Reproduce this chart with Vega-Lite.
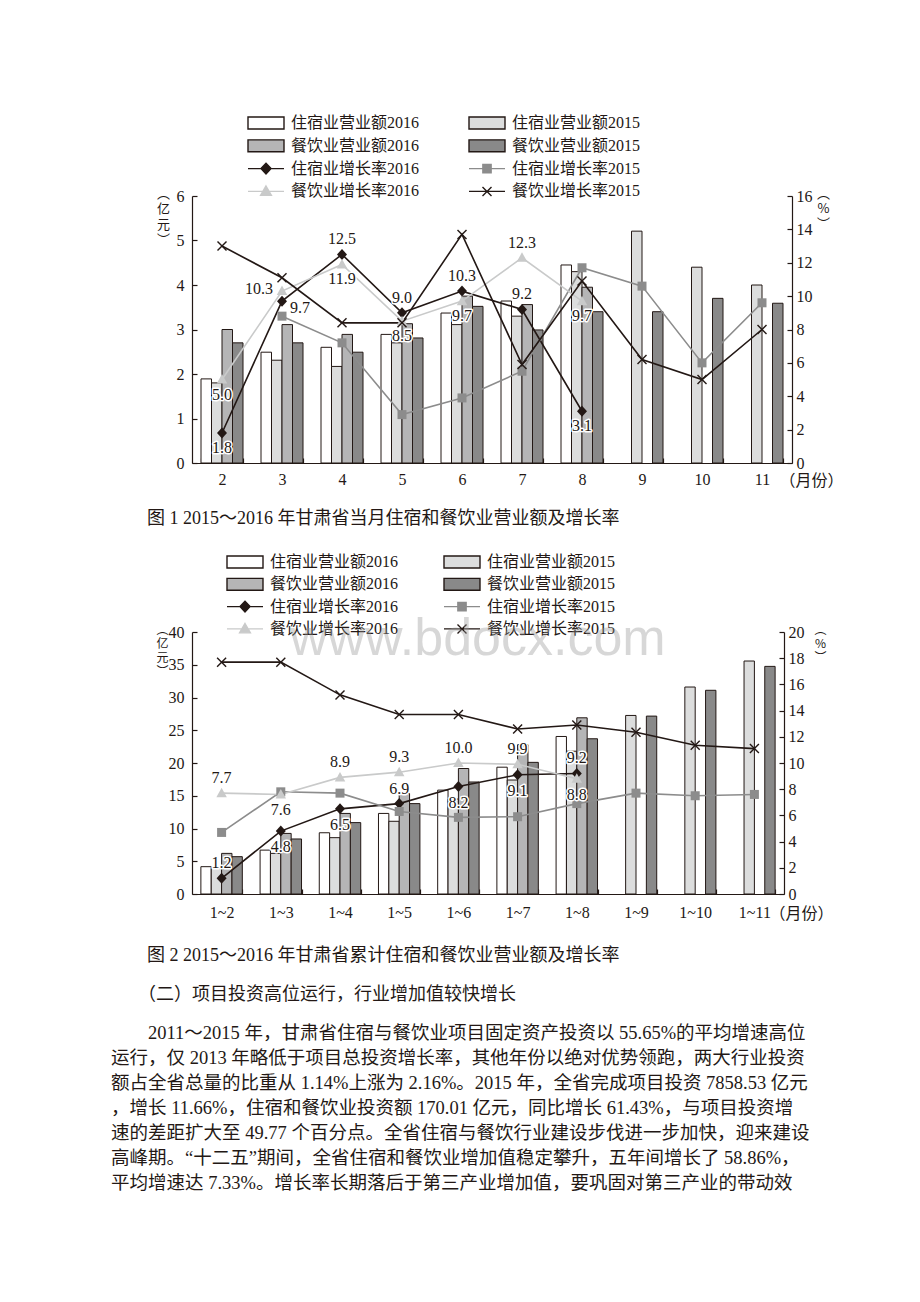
{
  "$schema": "https://vega.github.io/schema/vega-lite/v6.json",
  "padding": {"left": 111, "top": 115, "right": 10, "bottom": 10},
  "bounds": "flush",
  "spacing": 169,
  "background": "white",
  "title": {"text": "www.bdocx.com", "orient": "top", "anchor": "start", "frame": "group", "font": "Liberation Sans", "fontSize": 52, "fontWeight": "normal", "color": "rgba(150,150,150,0.38)", "dx": 98, "dy": 592, "offset": 0, "baseline": "alphabetic"},
  "config": {
    "font": "Liberation Serif, Noto Sans CJK SC",
    "view": {"stroke": null},
    "axis": {"domainColor": "#231815", "tickColor": "#231815", "labelColor": "#231815", "titleColor": "#231815", "grid": false, "labelFont": "Liberation Serif", "labelFontSize": 16, "domainWidth": 1.2, "tickWidth": 1.2, "titleFontWeight": "normal", "titleFont": "Noto Sans CJK SC"},
    "legend": {"labelFont": "Liberation Serif, Noto Sans CJK SC", "labelFontSize": 16, "labelColor": "#231815", "padding": 0},
    "title": {"font": "Liberation Serif, Noto Sans CJK SC", "fontSize": 18, "fontWeight": "normal", "color": "#231815", "subtitleFont": "Liberation Serif, Noto Sans CJK SC", "subtitleFontSize": 18.5, "subtitleColor": "#231815"}
  },
  "datasets": {
    "c1bars": [
      {"m": "2", "s": "住宿业营业额2016", "v": 1.89}, {"m": "2", "s": "住宿业营业额2015", "v": 1.8}, {"m": "2", "s": "餐饮业营业额2016", "v": 3.0}, {"m": "2", "s": "餐饮业营业额2015", "v": 2.7},
      {"m": "3", "s": "住宿业营业额2016", "v": 2.49}, {"m": "3", "s": "住宿业营业额2015", "v": 2.31}, {"m": "3", "s": "餐饮业营业额2016", "v": 3.11}, {"m": "3", "s": "餐饮业营业额2015", "v": 2.7},
      {"m": "4", "s": "住宿业营业额2016", "v": 2.6}, {"m": "4", "s": "住宿业营业额2015", "v": 2.17}, {"m": "4", "s": "餐饮业营业额2016", "v": 2.89}, {"m": "4", "s": "餐饮业营业额2015", "v": 2.49},
      {"m": "5", "s": "住宿业营业额2016", "v": 2.89}, {"m": "5", "s": "住宿业营业额2015", "v": 2.7}, {"m": "5", "s": "餐饮业营业额2016", "v": 3.13}, {"m": "5", "s": "餐饮业营业额2015", "v": 2.81},
      {"m": "6", "s": "住宿业营业额2016", "v": 3.37}, {"m": "6", "s": "住宿业营业额2015", "v": 3.11}, {"m": "6", "s": "餐饮业营业额2016", "v": 3.75}, {"m": "6", "s": "餐饮业营业额2015", "v": 3.52},
      {"m": "7", "s": "住宿业营业额2016", "v": 3.64}, {"m": "7", "s": "住宿业营业额2015", "v": 3.3}, {"m": "7", "s": "餐饮业营业额2016", "v": 3.56}, {"m": "7", "s": "餐饮业营业额2015", "v": 2.99},
      {"m": "8", "s": "住宿业营业额2016", "v": 4.45}, {"m": "8", "s": "住宿业营业额2015", "v": 4.3}, {"m": "8", "s": "餐饮业营业额2016", "v": 3.95}, {"m": "8", "s": "餐饮业营业额2015", "v": 3.4},
      {"m": "9", "s": "住宿业营业额2015", "v": 5.21}, {"m": "9", "s": "餐饮业营业额2015", "v": 3.4},
      {"m": "10", "s": "住宿业营业额2015", "v": 4.4}, {"m": "10", "s": "餐饮业营业额2015", "v": 3.7},
      {"m": "11", "s": "住宿业营业额2015", "v": 4.0}, {"m": "11", "s": "餐饮业营业额2015", "v": 3.59}
    ],
    "c1rates": [
      {"m": "2", "s": "住宿业增长率2016", "v": 1.8}, {"m": "3", "s": "住宿业增长率2016", "v": 9.7}, {"m": "4", "s": "住宿业增长率2016", "v": 12.5}, {"m": "5", "s": "住宿业增长率2016", "v": 9.0}, {"m": "6", "s": "住宿业增长率2016", "v": 10.3}, {"m": "7", "s": "住宿业增长率2016", "v": 9.2}, {"m": "8", "s": "住宿业增长率2016", "v": 3.1},
      {"m": "3", "s": "住宿业增长率2015", "v": 8.8}, {"m": "4", "s": "住宿业增长率2015", "v": 7.2}, {"m": "5", "s": "住宿业增长率2015", "v": 2.9}, {"m": "6", "s": "住宿业增长率2015", "v": 3.9}, {"m": "7", "s": "住宿业增长率2015", "v": 5.5}, {"m": "8", "s": "住宿业增长率2015", "v": 11.7}, {"m": "9", "s": "住宿业增长率2015", "v": 10.6}, {"m": "10", "s": "住宿业增长率2015", "v": 6.0}, {"m": "11", "s": "住宿业增长率2015", "v": 9.6},
      {"m": "2", "s": "餐饮业增长率2016", "v": 5.0}, {"m": "3", "s": "餐饮业增长率2016", "v": 10.3}, {"m": "4", "s": "餐饮业增长率2016", "v": 11.9}, {"m": "5", "s": "餐饮业增长率2016", "v": 8.5}, {"m": "6", "s": "餐饮业增长率2016", "v": 9.7}, {"m": "7", "s": "餐饮业增长率2016", "v": 12.3}, {"m": "8", "s": "餐饮业增长率2016", "v": 9.7},
      {"m": "2", "s": "餐饮业增长率2015", "v": 13.0}, {"m": "3", "s": "餐饮业增长率2015", "v": 11.1}, {"m": "4", "s": "餐饮业增长率2015", "v": 8.4}, {"m": "5", "s": "餐饮业增长率2015", "v": 8.4}, {"m": "6", "s": "餐饮业增长率2015", "v": 13.7}, {"m": "7", "s": "餐饮业增长率2015", "v": 5.9}, {"m": "8", "s": "餐饮业增长率2015", "v": 10.9}, {"m": "9", "s": "餐饮业增长率2015", "v": 6.2}, {"m": "10", "s": "餐饮业增长率2015", "v": 5.0}, {"m": "11", "s": "餐饮业增长率2015", "v": 8.0}
    ],
    "c2bars": [
      {"m": "1~2", "s": "住宿业营业额2016", "v": 4.17}, {"m": "1~2", "s": "住宿业营业额2015", "v": 3.9}, {"m": "1~2", "s": "餐饮业营业额2016", "v": 6.2}, {"m": "1~2", "s": "餐饮业营业额2015", "v": 5.7},
      {"m": "1~3", "s": "住宿业营业额2016", "v": 6.7}, {"m": "1~3", "s": "住宿业营业额2015", "v": 6.2}, {"m": "1~3", "s": "餐饮业营业额2016", "v": 9.25}, {"m": "1~3", "s": "餐饮业营业额2015", "v": 8.4},
      {"m": "1~4", "s": "住宿业营业额2016", "v": 9.35}, {"m": "1~4", "s": "住宿业营业额2015", "v": 8.6}, {"m": "1~4", "s": "餐饮业营业额2016", "v": 12.3}, {"m": "1~4", "s": "餐饮业营业额2015", "v": 10.9},
      {"m": "1~5", "s": "住宿业营业额2016", "v": 12.3}, {"m": "1~5", "s": "住宿业营业额2015", "v": 11.1}, {"m": "1~5", "s": "餐饮业营业额2016", "v": 15.35}, {"m": "1~5", "s": "餐饮业营业额2015", "v": 13.8},
      {"m": "1~6", "s": "住宿业营业额2016", "v": 15.86}, {"m": "1~6", "s": "住宿业营业额2015", "v": 14.5}, {"m": "1~6", "s": "餐饮业营业额2016", "v": 19.16}, {"m": "1~6", "s": "餐饮业营业额2015", "v": 17.1},
      {"m": "1~7", "s": "住宿业营业额2016", "v": 19.36}, {"m": "1~7", "s": "住宿业营业额2015", "v": 17.4}, {"m": "1~7", "s": "餐饮业营业额2016", "v": 22.8}, {"m": "1~7", "s": "餐饮业营业额2015", "v": 20.1},
      {"m": "1~8", "s": "住宿业营业额2016", "v": 24.05}, {"m": "1~8", "s": "住宿业营业额2015", "v": 21.8}, {"m": "1~8", "s": "餐饮业营业额2016", "v": 26.9}, {"m": "1~8", "s": "餐饮业营业额2015", "v": 23.7},
      {"m": "1~9", "s": "住宿业营业额2015", "v": 27.26}, {"m": "1~9", "s": "餐饮业营业额2015", "v": 27.16},
      {"m": "1~10", "s": "住宿业营业额2015", "v": 31.6}, {"m": "1~10", "s": "餐饮业营业额2015", "v": 31.1},
      {"m": "1~11", "s": "住宿业营业额2015", "v": 35.57}, {"m": "1~11", "s": "餐饮业营业额2015", "v": 34.75}
    ],
    "c2rates": [
      {"m": "1~2", "s": "住宿业增长率2016", "v": 1.2}, {"m": "1~3", "s": "住宿业增长率2016", "v": 4.8}, {"m": "1~4", "s": "住宿业增长率2016", "v": 6.5}, {"m": "1~5", "s": "住宿业增长率2016", "v": 6.9}, {"m": "1~6", "s": "住宿业增长率2016", "v": 8.2}, {"m": "1~7", "s": "住宿业增长率2016", "v": 9.1}, {"m": "1~8", "s": "住宿业增长率2016", "v": 9.2},
      {"m": "1~2", "s": "住宿业增长率2015", "v": 4.7}, {"m": "1~3", "s": "住宿业增长率2015", "v": 7.8}, {"m": "1~4", "s": "住宿业增长率2015", "v": 7.7}, {"m": "1~5", "s": "住宿业增长率2015", "v": 6.3}, {"m": "1~6", "s": "住宿业增长率2015", "v": 5.85}, {"m": "1~7", "s": "住宿业增长率2015", "v": 5.9}, {"m": "1~8", "s": "住宿业增长率2015", "v": 6.9}, {"m": "1~9", "s": "住宿业增长率2015", "v": 7.7}, {"m": "1~10", "s": "住宿业增长率2015", "v": 7.5}, {"m": "1~11", "s": "住宿业增长率2015", "v": 7.6},
      {"m": "1~2", "s": "餐饮业增长率2016", "v": 7.7}, {"m": "1~3", "s": "餐饮业增长率2016", "v": 7.6}, {"m": "1~4", "s": "餐饮业增长率2016", "v": 8.9}, {"m": "1~5", "s": "餐饮业增长率2016", "v": 9.3}, {"m": "1~6", "s": "餐饮业增长率2016", "v": 10.0}, {"m": "1~7", "s": "餐饮业增长率2016", "v": 9.9}, {"m": "1~8", "s": "餐饮业增长率2016", "v": 8.8},
      {"m": "1~2", "s": "餐饮业增长率2015", "v": 17.7}, {"m": "1~3", "s": "餐饮业增长率2015", "v": 17.7}, {"m": "1~4", "s": "餐饮业增长率2015", "v": 15.2}, {"m": "1~5", "s": "餐饮业增长率2015", "v": 13.7}, {"m": "1~6", "s": "餐饮业增长率2015", "v": 13.7}, {"m": "1~7", "s": "餐饮业增长率2015", "v": 12.6}, {"m": "1~8", "s": "餐饮业增长率2015", "v": 12.9}, {"m": "1~9", "s": "餐饮业增长率2015", "v": 12.35}, {"m": "1~10", "s": "餐饮业增长率2015", "v": 11.35}, {"m": "1~11", "s": "餐饮业增长率2015", "v": 11.1}
    ]
  },
  "resolve": {
    "scale": {"color": "independent", "shape": "independent", "fill": "independent", "stroke": "independent", "xOffset": "independent", "x": "independent", "y": "independent"},
    "legend": {"color": "independent", "shape": "independent", "fill": "independent", "stroke": "independent"}
  },
  "vconcat": [
    {
      "width": 600,
      "height": 267,
      "title": {"text": "\u200b\u3000\u3000图 1 2015～2016 年甘肃省当月住宿和餐饮业营业额及增长率", "orient": "bottom", "anchor": "start", "frame": "group", "dx": -81, "offset": 22},
      "layer": [
        {
          "data": {"name": "c1bars"},
          "mark": {"type": "bar", "stroke": "#231815", "strokeWidth": 1},
          "encoding": {
            "x": {"field": "m", "type": "ordinal", "sort": ["2","3","4","5","6","7","8","9","10","11"],
                  "scale": {"paddingInner": 0.3, "paddingOuter": 0.15},
                  "axis": {"title": "（月份）", "titleX": 587, "titleY": 17, "titleAlign": "left", "titleBaseline": "middle", "titleFontSize": 16, "titleFont": "Liberation Serif, Noto Sans CJK SC", "labelAngle": 0, "tickBand": "extent", "tickSize": -5, "labelPadding": 13}},
            "xOffset": {"field": "s", "type": "nominal", "scale": {"domain": ["住宿业营业额2016","住宿业营业额2015","餐饮业营业额2016","餐饮业营业额2015"], "paddingInner": 0, "paddingOuter": 0}},
            "y": {"field": "v", "type": "quantitative", "scale": {"domain": [0, 6], "nice": false},
                  "axis": {"title": ["︵","亿","元","︶"], "titleAngle": 0, "titleX": -29, "titleY": -9, "titleAlign": "center", "titleBaseline": "top", "titleFontSize": 13, "titleLineHeight": 15.5, "values": [0,1,2,3,4,5,6], "tickSize": -5, "labelPadding": 13}},
            "color": {"field": "s", "type": "nominal",
                      "scale": {"domain": ["住宿业营业额2016","住宿业营业额2015","餐饮业营业额2016","餐饮业营业额2015","住宿业增长率2016","住宿业增长率2015","餐饮业增长率2016","餐饮业增长率2015"],
                                "range": ["#ffffff","#dcdddd","#b5b5b6","#898989","#231815","#8c8c8c","#c9caca","#231815"]},
                      "legend": {"orient": "none", "legendX": 55, "legendY": -81, "columns": 2, "direction": "horizontal", "title": null, "symbolSize": 1296, "clipHeight": 16, "rowPadding": 6.8, "columnPadding": 48, "labelOffset": 6, "symbolOffset": 0,
                                 "encoding": {"symbols": {
                                   "shape": {"value": {"signal": "indexof(['住宿业营业额2016','住宿业营业额2015','餐饮业营业额2016','餐饮业营业额2015'], datum.value) >= 0 ? 'M-1,-0.33H1V0.33H-1Z' : datum.value == '住宿业增长率2016' ? 'M-1,0H1M0,-0.3L0.28,0L0,0.3L-0.28,0Z' : datum.value == '住宿业增长率2015' ? 'M-1,0H1M-0.23,-0.23H0.23V0.23H-0.23Z' : datum.value == '餐饮业增长率2016' ? 'M-1,0H1M0,-0.3L0.3,0.22H-0.3Z' : 'M-1,0H1M-0.25,-0.25L0.25,0.25M-0.25,0.25L0.25,-0.25'"}},
                                   "fill": {"value": {"signal": "['#ffffff','#dcdddd','#b5b5b6','#898989','#231815','#8c8c8c','#c9caca','#231815'][indexof(['住宿业营业额2016','住宿业营业额2015','餐饮业营业额2016','餐饮业营业额2015','住宿业增长率2016','住宿业增长率2015','餐饮业增长率2016','餐饮业增长率2015'], datum.value)]"}},
                                   "stroke": {"value": {"signal": "['#231815','#231815','#231815','#231815','#231815','#8c8c8c','#c9caca','#231815'][indexof(['住宿业营业额2016','住宿业营业额2015','餐饮业营业额2016','餐饮业营业额2015','住宿业增长率2016','住宿业增长率2015','餐饮业增长率2016','餐饮业增长率2015'], datum.value)]"}},
                                   "strokeWidth": {"value": 1.4},
                                   "opacity": {"value": 1}
                                 }}}}
          }
        },
        {
          "data": {"name": "c1rates"},
          "encoding": {
            "x": {"field": "m", "type": "ordinal", "sort": ["2","3","4","5","6","7","8","9","10","11"]},
            "y": {"field": "v", "type": "quantitative", "scale": {"domain": [0, 16], "nice": false},
                  "axis": {"orient": "right", "title": ["︵","%","︶"], "titleAngle": 0, "titleX": 31, "titleY": -9, "titleAlign": "center", "titleBaseline": "top", "titleFontSize": 13, "titleLineHeight": 15, "values": [0,2,4,6,8,10,12,14,16], "tickSize": -5, "labelPadding": 9}}
          },
          "layer": [
            {"mark": {"type": "line", "strokeWidth": 1.6},
             "encoding": {"stroke": {"field": "s", "type": "nominal", "legend": null,
                                     "scale": {"domain": ["住宿业增长率2016","住宿业增长率2015","餐饮业增长率2016","餐饮业增长率2015"], "range": ["#231815","#8c8c8c","#c9caca","#231815"]}}}},
            {"mark": {"type": "point", "filled": true, "size": 100, "opacity": 1},
             "encoding": {"fill": {"field": "s", "type": "nominal", "legend": null,
                                   "scale": {"domain": ["住宿业增长率2016","住宿业增长率2015","餐饮业增长率2016","餐饮业增长率2015"], "range": ["#231815","#8c8c8c","#c9caca","#231815"]}},
                          "shape": {"field": "s", "type": "nominal", "legend": null,
                                    "scale": {"domain": ["住宿业增长率2016","住宿业增长率2015","餐饮业增长率2016","餐饮业增长率2015"],
                                              "range": ["M0,-1.1L1,0L0,1.1L-1,0Z","M-0.9,-0.9H0.9V0.9H-0.9Z","M0,-1.1L1.05,0.8H-1.05Z","M-1,-0.8L-0.8,-1L0,-0.2L0.8,-1L1,-0.8L0.2,0L1,0.8L0.8,1L0,0.2L-0.8,1L-1,0.8L-0.2,0Z"]}}}},
            {"transform": [{"filter": "(datum.s=='住宿业增长率2016' && indexof(['4','5','6','7'], datum.m) >= 0) || (datum.s=='餐饮业增长率2016' && datum.m=='7')"}],
             "mark": {"type": "text", "align": "center", "baseline": "middle", "dy": -15, "font": "Liberation Serif", "fontSize": 16, "fill": "#ffffff", "stroke": "#ffffff", "strokeWidth": 3, "strokeJoin": "round"},
             "encoding": {"text": {"field": "v", "type": "quantitative", "format": ".1f"}}},
            {"transform": [{"filter": "(datum.s=='住宿业增长率2016' && indexof(['4','5','6','7'], datum.m) >= 0) || (datum.s=='餐饮业增长率2016' && datum.m=='7')"}],
             "mark": {"type": "text", "align": "center", "baseline": "middle", "dy": -15, "font": "Liberation Serif", "fontSize": 16, "fill": "#231815"},
             "encoding": {"text": {"field": "v", "type": "quantitative", "format": ".1f"}}},
            {"transform": [{"filter": "(datum.s=='住宿业增长率2016' && indexof(['2','8'], datum.m) >= 0) || (datum.s=='餐饮业增长率2016' && indexof(['2','4','5','6','8'], datum.m) >= 0)"}],
             "mark": {"type": "text", "align": "center", "baseline": "middle", "dy": 15, "font": "Liberation Serif", "fontSize": 16, "fill": "#ffffff", "stroke": "#ffffff", "strokeWidth": 3, "strokeJoin": "round"},
             "encoding": {"text": {"field": "v", "type": "quantitative", "format": ".1f"}}},
            {"transform": [{"filter": "(datum.s=='住宿业增长率2016' && indexof(['2','8'], datum.m) >= 0) || (datum.s=='餐饮业增长率2016' && indexof(['2','4','5','6','8'], datum.m) >= 0)"}],
             "mark": {"type": "text", "align": "center", "baseline": "middle", "dy": 15, "font": "Liberation Serif", "fontSize": 16, "fill": "#231815"},
             "encoding": {"text": {"field": "v", "type": "quantitative", "format": ".1f"}}},
            {"transform": [{"filter": "datum.s=='住宿业增长率2016' && datum.m=='3'"}],
             "mark": {"type": "text", "align": "left", "baseline": "middle", "dx": 8, "dy": 7, "font": "Liberation Serif", "fontSize": 16, "fill": "#ffffff", "stroke": "#ffffff", "strokeWidth": 3, "strokeJoin": "round"},
             "encoding": {"text": {"field": "v", "type": "quantitative", "format": ".1f"}}},
            {"transform": [{"filter": "datum.s=='住宿业增长率2016' && datum.m=='3'"}],
             "mark": {"type": "text", "align": "left", "baseline": "middle", "dx": 8, "dy": 7, "font": "Liberation Serif", "fontSize": 16, "fill": "#231815"},
             "encoding": {"text": {"field": "v", "type": "quantitative", "format": ".1f"}}},
            {"transform": [{"filter": "datum.s=='餐饮业增长率2016' && datum.m=='3'"}],
             "mark": {"type": "text", "align": "right", "baseline": "middle", "dx": -9, "dy": -2, "font": "Liberation Serif", "fontSize": 16, "fill": "#231815"},
             "encoding": {"text": {"field": "v", "type": "quantitative", "format": ".1f"}}}
          ]
        }
      ],
      "resolve": {"scale": {"y": "independent"}}
    },
    {
      "width": 592,
      "height": 262,
      "title": {
        "text": ["\u200b\u3000\u3000图 2 2015～2016 年甘肃省累计住宿和餐饮业营业额及增长率", "\u200b\u3000\u3000（二）项目投资高位运行，行业增加值较快增长"],
        "lineHeight": 38.5,
        "subtitle": [
          "\u200b\u3000\u30002011～2015 年，甘肃省住宿与餐饮业项目固定资产投资以 55.65%的平均增速高位",
          "运行，仅 2013 年略低于项目总投资增长率，其他年份以绝对优势领跑，两大行业投资",
          "额占全省总量的比重从 1.14%上涨为 2.16%。2015 年，全省完成项目投资 7858.53 亿元",
          "，增长 11.66%，住宿和餐饮业投资额 170.01 亿元，同比增长 61.43%，与项目投资增",
          "速的差距扩大至 49.77 个百分点。全省住宿与餐饮行业建设步伐进一步加快，迎来建设",
          "高峰期。“十二五”期间，全省住宿和餐饮业增加值稳定攀升，五年间增长了 58.86%，",
          "平均增速达 7.33%。增长率长期落后于第三产业增加值，要巩固对第三产业的带动效"
        ],
        "subtitleLineHeight": 25,
        "subtitlePadding": 20,
        "orient": "bottom", "anchor": "start", "frame": "group", "dx": -81, "offset": 26
      },
      "layer": [
        {
          "data": {"name": "c2bars"},
          "mark": {"type": "bar", "stroke": "#231815", "strokeWidth": 1},
          "encoding": {
            "x": {"field": "m", "type": "ordinal", "sort": ["1~2","1~3","1~4","1~5","1~6","1~7","1~8","1~9","1~10","1~11"],
                  "scale": {"paddingInner": 0.3, "paddingOuter": 0.15},
                  "axis": {"title": "（月份）", "titleX": 577, "titleY": 19, "titleAlign": "left", "titleBaseline": "middle", "titleFontSize": 16, "titleFont": "Liberation Serif, Noto Sans CJK SC", "labelAngle": 0, "tickBand": "extent", "tickSize": -5, "labelPadding": 15}},
            "xOffset": {"field": "s", "type": "nominal", "scale": {"domain": ["住宿业营业额2016","住宿业营业额2015","餐饮业营业额2016","餐饮业营业额2015"], "paddingInner": 0, "paddingOuter": 0}},
            "y": {"field": "v", "type": "quantitative", "scale": {"domain": [0, 40], "nice": false},
                  "axis": {"title": ["︵","亿","元","︶"], "titleAngle": 0, "titleX": -30, "titleY": -8, "titleAlign": "center", "titleBaseline": "top", "titleFontSize": 12, "titleLineHeight": 14, "values": [0,5,10,15,20,25,30,35,40], "tickSize": -5, "labelPadding": 13}},
            "color": {"field": "s", "type": "nominal",
                      "scale": {"domain": ["住宿业营业额2016","住宿业营业额2015","餐饮业营业额2016","餐饮业营业额2015","住宿业增长率2016","住宿业增长率2015","餐饮业增长率2016","餐饮业增长率2015"],
                                "range": ["#ffffff","#dcdddd","#b5b5b6","#898989","#231815","#8c8c8c","#c9caca","#231815"]},
                      "legend": {"orient": "none", "legendX": 34, "legendY": -78, "columns": 2, "direction": "horizontal", "title": null, "symbolSize": 1296, "clipHeight": 16, "rowPadding": 6.3, "columnPadding": 44, "labelOffset": 6, "symbolOffset": 0,
                                 "encoding": {"symbols": {
                                   "shape": {"value": {"signal": "indexof(['住宿业营业额2016','住宿业营业额2015','餐饮业营业额2016','餐饮业营业额2015'], datum.value) >= 0 ? 'M-1,-0.33H1V0.33H-1Z' : datum.value == '住宿业增长率2016' ? 'M-1,0H1M0,-0.3L0.28,0L0,0.3L-0.28,0Z' : datum.value == '住宿业增长率2015' ? 'M-1,0H1M-0.23,-0.23H0.23V0.23H-0.23Z' : datum.value == '餐饮业增长率2016' ? 'M-1,0H1M0,-0.3L0.3,0.22H-0.3Z' : 'M-1,0H1M-0.25,-0.25L0.25,0.25M-0.25,0.25L0.25,-0.25'"}},
                                   "fill": {"value": {"signal": "['#ffffff','#dcdddd','#b5b5b6','#898989','#231815','#8c8c8c','#c9caca','#231815'][indexof(['住宿业营业额2016','住宿业营业额2015','餐饮业营业额2016','餐饮业营业额2015','住宿业增长率2016','住宿业增长率2015','餐饮业增长率2016','餐饮业增长率2015'], datum.value)]"}},
                                   "stroke": {"value": {"signal": "['#231815','#231815','#231815','#231815','#231815','#8c8c8c','#c9caca','#231815'][indexof(['住宿业营业额2016','住宿业营业额2015','餐饮业营业额2016','餐饮业营业额2015','住宿业增长率2016','住宿业增长率2015','餐饮业增长率2016','餐饮业增长率2015'], datum.value)]"}},
                                   "strokeWidth": {"value": 1.4},
                                   "opacity": {"value": 1}
                                 }}}}
          }
        },
        {
          "data": {"name": "c2rates"},
          "encoding": {
            "x": {"field": "m", "type": "ordinal", "sort": ["1~2","1~3","1~4","1~5","1~6","1~7","1~8","1~9","1~10","1~11"]},
            "y": {"field": "v", "type": "quantitative", "scale": {"domain": [0, 20], "nice": false},
                  "axis": {"orient": "right", "title": ["︵","%","︶"], "titleAngle": 0, "titleX": 36, "titleY": -8, "titleAlign": "center", "titleBaseline": "top", "titleFontSize": 12, "titleLineHeight": 14, "values": [0,2,4,6,8,10,12,14,16,18,20], "tickSize": -5, "labelPadding": 9}}
          },
          "layer": [
            {"mark": {"type": "line", "strokeWidth": 1.6},
             "encoding": {"stroke": {"field": "s", "type": "nominal", "legend": null,
                                     "scale": {"domain": ["住宿业增长率2016","住宿业增长率2015","餐饮业增长率2016","餐饮业增长率2015"], "range": ["#231815","#8c8c8c","#c9caca","#231815"]}}}},
            {"mark": {"type": "point", "filled": true, "size": 100, "opacity": 1},
             "encoding": {"fill": {"field": "s", "type": "nominal", "legend": null,
                                   "scale": {"domain": ["住宿业增长率2016","住宿业增长率2015","餐饮业增长率2016","餐饮业增长率2015"], "range": ["#231815","#8c8c8c","#c9caca","#231815"]}},
                          "shape": {"field": "s", "type": "nominal", "legend": null,
                                    "scale": {"domain": ["住宿业增长率2016","住宿业增长率2015","餐饮业增长率2016","餐饮业增长率2015"],
                                              "range": ["M0,-1.1L1,0L0,1.1L-1,0Z","M-0.9,-0.9H0.9V0.9H-0.9Z","M0,-1.1L1.05,0.8H-1.05Z","M-1,-0.8L-0.8,-1L0,-0.2L0.8,-1L1,-0.8L0.2,0L1,0.8L0.8,1L0,0.2L-0.8,1L-1,0.8L-0.2,0Z"]}}}},
            {"transform": [{"filter": "(datum.s=='住宿业增长率2016' && indexof(['1~2','1~5','1~8'], datum.m) >= 0) || (datum.s=='餐饮业增长率2016' && indexof(['1~2','1~4','1~5','1~6','1~7'], datum.m) >= 0)"}],
             "mark": {"type": "text", "align": "center", "baseline": "middle", "dy": -15, "font": "Liberation Serif", "fontSize": 16, "fill": "#ffffff", "stroke": "#ffffff", "strokeWidth": 3, "strokeJoin": "round"},
             "encoding": {"text": {"field": "v", "type": "quantitative", "format": ".1f"}}},
            {"transform": [{"filter": "(datum.s=='住宿业增长率2016' && indexof(['1~2','1~5','1~8'], datum.m) >= 0) || (datum.s=='餐饮业增长率2016' && indexof(['1~2','1~4','1~5','1~6','1~7'], datum.m) >= 0)"}],
             "mark": {"type": "text", "align": "center", "baseline": "middle", "dy": -15, "font": "Liberation Serif", "fontSize": 16, "fill": "#231815"},
             "encoding": {"text": {"field": "v", "type": "quantitative", "format": ".1f"}}},
            {"transform": [{"filter": "(datum.s=='住宿业增长率2016' && indexof(['1~3','1~4','1~6','1~7'], datum.m) >= 0) || (datum.s=='餐饮业增长率2016' && indexof(['1~3','1~8'], datum.m) >= 0)"}],
             "mark": {"type": "text", "align": "center", "baseline": "middle", "dy": 16, "font": "Liberation Serif", "fontSize": 16, "fill": "#ffffff", "stroke": "#ffffff", "strokeWidth": 3, "strokeJoin": "round"},
             "encoding": {"text": {"field": "v", "type": "quantitative", "format": ".1f"}}},
            {"transform": [{"filter": "(datum.s=='住宿业增长率2016' && indexof(['1~3','1~4','1~6','1~7'], datum.m) >= 0) || (datum.s=='餐饮业增长率2016' && indexof(['1~3','1~8'], datum.m) >= 0)"}],
             "mark": {"type": "text", "align": "center", "baseline": "middle", "dy": 16, "font": "Liberation Serif", "fontSize": 16, "fill": "#231815"},
             "encoding": {"text": {"field": "v", "type": "quantitative", "format": ".1f"}}}
          ]
        }
      ],
      "resolve": {"scale": {"y": "independent"}}
    }
  ]
}
